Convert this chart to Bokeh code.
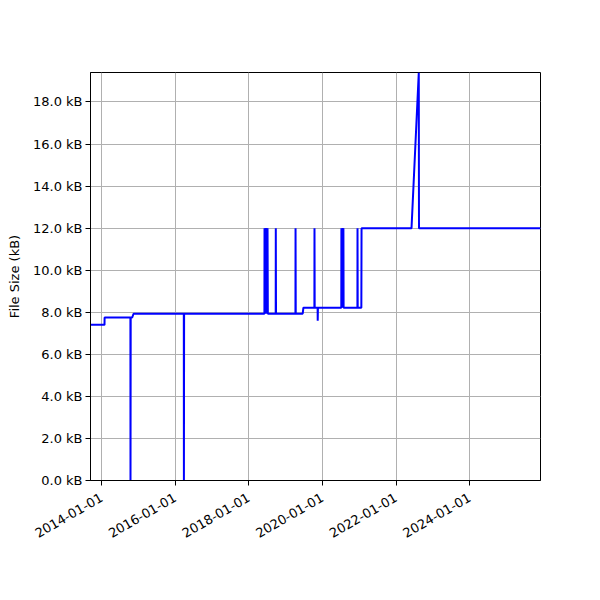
import math
import pandas as pd
from bokeh.plotting import figure
from bokeh.models import (ColumnDataSource, FixedTicker, DatetimeTickFormatter,
                          PrintfTickFormatter, Range1d, SingleIntervalTicker)
from bokeh.embed import file_html
from bokeh.resources import INLINE

# ---- data ----
dates = [
    "2013-09-13", "2014-01-30", "2014-01-31", "2014-10-14", "2014-10-15",
    "2014-10-17", "2014-11-01", "2014-11-14", "2016-03-27", "2016-03-28",
    "2016-03-30", "2018-06-05", "2018-06-06", "2018-06-10", "2018-06-16",
    "2018-06-20", "2018-06-26", "2018-07-01", "2018-07-06", "2018-07-09",
    "2018-09-25", "2018-09-26", "2018-09-28", "2019-04-09", "2019-04-10",
    "2019-04-12", "2019-06-20", "2019-06-27", "2019-10-14", "2019-10-15",
    "2019-10-17", "2019-11-15", "2019-11-16", "2019-11-18", "2020-07-07",
    "2020-07-08", "2020-07-12", "2020-07-20", "2020-07-24", "2020-07-28",
    "2020-07-30", "2020-12-14", "2020-12-15", "2020-12-17", "2021-01-22",
    "2021-01-24", "2022-06-04", "2022-08-15", "2022-08-17", "2025-12-05",
]
sizes_kb = [
    7.4, 7.4, 7.75, 7.75, 0.0,
    7.75, 7.75, 7.93, 7.93, 0.0,
    7.93, 7.93, 12.0, 7.93, 12.0,
    7.93, 12.0, 7.93, 12.0, 7.93,
    7.93, 12.0, 7.93, 7.93, 12.0,
    7.93, 7.93, 8.22, 8.22, 12.0,
    8.22, 8.22, 7.6, 8.22, 8.22,
    12.0, 8.22, 12.0, 8.22, 12.0,
    8.22, 8.22, 12.0, 8.22, 8.22,
    12.0, 12.0, 19.4, 12.0, 12.0,
]
tick_years = [2014, 2016, 2018, 2020, 2022, 2024]
x_start, x_end = "2013-09-13", "2025-12-05"
y_max = 19.4

src = ColumnDataSource(dict(date=pd.to_datetime(dates), size=sizes_kb))

def ms(s):
    return pd.Timestamp(s).value / 1e6

p = figure(width=600, height=600, x_axis_type="datetime",
           output_backend="svg", toolbar_location=None,
           x_range=Range1d(ms(x_start), ms(x_end)),
           y_range=Range1d(0, y_max),
           min_border_left=90, min_border_top=72,
           min_border_right=60, min_border_bottom=120)

p.line("date", "size", source=src, line_color="#0000ff", line_width=2)

font = "DejaVu Sans"
p.xaxis.ticker = FixedTicker(ticks=[ms(f"{y}-01-01") for y in tick_years])
p.xaxis.formatter = DatetimeTickFormatter(
    years="%Y-%m-%d", months="%Y-%m-%d", days="%Y-%m-%d",
    hours="%Y-%m-%d", minutes="%Y-%m-%d", seconds="%Y-%m-%d",
    milliseconds="%Y-%m-%d", microseconds="%Y-%m-%d")
p.xaxis.major_label_orientation = math.pi / 6
p.yaxis.ticker = SingleIntervalTicker(interval=2, num_minor_ticks=0)
p.yaxis.formatter = PrintfTickFormatter(format="%.1f kB")
p.yaxis.axis_label = "File Size (kB)"

for ax in (p.xaxis, p.yaxis):
    ax.major_label_text_font = font
    ax.major_label_text_font_size = "13px"
    ax.major_label_text_color = "#000000"
    ax.axis_label_text_font = font
    ax.axis_label_text_font_size = "13px"
    ax.axis_label_text_font_style = "normal"
    ax.axis_label_text_color = "#000000"
    ax.axis_line_color = "#000000"
    ax.major_tick_line_color = "#000000"
    ax.major_tick_out = 5
    ax.major_tick_in = 0
    ax.minor_tick_line_color = None
    ax.major_label_standoff = 3
p.xaxis.major_label_standoff = 11
p.yaxis.axis_label_standoff = 8

p.grid.grid_line_color = "#b0b0b0"
p.grid.grid_line_width = 1
p.outline_line_color = "#000000"
p.outline_line_width = 1
p.background_fill_color = "white"
p.border_fill_color = "white"

open("out.html", "w").write(file_html(p, INLINE))
